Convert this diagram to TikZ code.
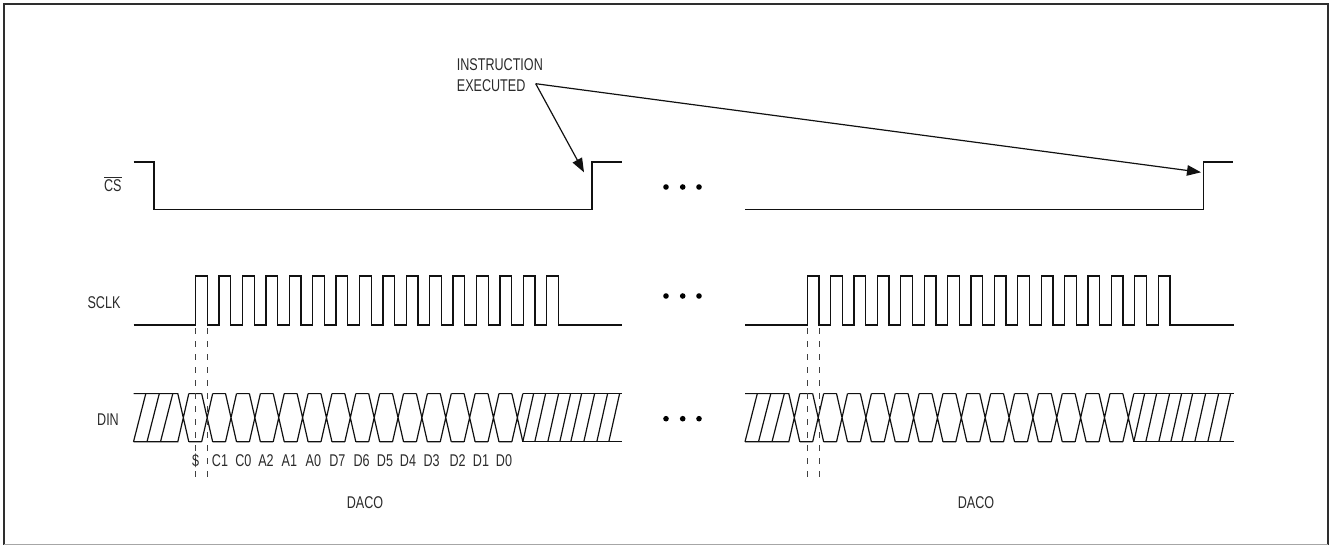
\documentclass[tikz,border=0pt]{standalone}
\usepackage{fontspec}
\setmainfont[FakeStretch=0.74]{Liberation Sans}
\usetikzlibrary{arrows.meta}
\definecolor{ink}{HTML}{111111}
\definecolor{txt}{HTML}{2A2A2A}
\definecolor{frame}{HTML}{2E2E2E}
\tikzset{
  wave/.style={draw=ink,line width=1.35pt,line join=miter},
  thin wave/.style={draw=ink,line width=1.2pt},
  dashline/.style={draw=ink!80,line width=1pt,dash pattern=on 6pt off 7pt},
  lbl/.style={font=\fontsize{17}{19}\selectfont,text=txt,inner sep=0pt},
  pointer/.style={draw=ink,line width=1.2pt,-{Triangle[length=14pt,width=10.5pt]}},
  dot/.style={circle,fill=black,inner sep=0pt,minimum size=5.6pt},
}
\newcommand{\clockwave}[1]{%
  \draw[wave] (#1,325) -- (#1+62.2,325)
    \foreach \k in {0,...,15} {
      -- (#1+62.2+\k*23.4,325) -- (#1+62.2+\k*23.4,276)
      -- (#1+73.9+\k*23.4,276) -- (#1+73.9+\k*23.4,325)
    } -- (#1+488.5,325);
}
% #1 left end, #2 first crossing
\newcommand{\datawave}[2]{%
  \draw[thin wave] (#1,393.6) -- (#2-5.5,393.6) -- (#2+5.5,441.8) (#1,441.8) -- (#2+5.5-11,441.8) -- (#2+5.5,393.6);
  \foreach \o in {0,13.5,27} { \draw[thin wave] (#1+\o,441.8) -- (#1+\o+12.3,393.6); }
  \foreach \k in {0,...,13} {
    \draw[thin wave] (#2+\k*23.86+5.5,393.6) -- (#2+\k*23.86+18.36,393.6)
      (#2+\k*23.86+5.5,441.8) -- (#2+\k*23.86+18.36,441.8)
      (#2+\k*23.86+18.36,393.6) -- (#2+\k*23.86+29.36,441.8)
      (#2+\k*23.86+18.36,441.8) -- (#2+\k*23.86+29.36,393.6);
  }
  \draw[thin wave] (#2+339.5,393.6) -- (#2+350,393.6) -- (#1+488.5,393.6);
  \draw[thin wave] (#2+339.5,441.8) -- (#2+350,441.8) -- (#1+488.5,441.8);
  \foreach \o in {0,12,25,37,48,61,74,86} { \draw[thin wave] (#2+339.5+\o,441.8) -- (#2+339.5+\o+10.8,393.6); }
}
\begin{document}
\begin{tikzpicture}[x=1pt,y=-1pt]
\useasboundingbox (0,0) rectangle (1335,545);
\draw[draw=frame,line width=2.2pt] (4.2,544.5) -- (4.2,3.8) -- (1328,3.8) -- (1328,544.5);
\draw[draw=gray!70,line width=1.2pt] (4.2,544.2) -- (1328,544.2);

% CS
\draw[wave] (133.5,162) -- (154,162) -- (154,209.5) -- (592,209.5) -- (592,162) -- (622,162);
\draw[wave] (745,209.5) -- (1203.7,209.5) -- (1203.7,162) -- (1233,162);

% SCLK
\clockwave{133.5}
\clockwave{745}

% DIN
\datawave{133.5}{183.3}
\datawave{745}{794.3}

% dashed
\draw[dashline] (195.7,328) -- (195.7,482);
\draw[dashline] (207.7,328) -- (207.7,482);
\draw[dashline] (807.3,328) -- (807.3,482);
\draw[dashline] (819,328) -- (819,482);

% dots
\foreach \y/\n in {187/a,296/b,418.7/c} {
  \node[dot] (\n1) at (666,\y) {};
  \node[dot] (\n2) at (682.7,\y) {};
  \node[dot] (\n3) at (699,\y) {};
}

% signal labels
\node[lbl] (cs) at (112.8,186) {\raisebox{0pt}[0pt][0pt]{\rlap{\rule[14pt]{17.5pt}{0.8pt}}}CS};
\node[lbl] (sclk) at (104,302.5) {SCLK};
\node[lbl] (din) at (108,420) {DIN};

% bit labels
\foreach \x/\t in {195.7/\$,220/C1,243.3/C0,266/A2,289.3/A1,313.3/A0,337.3/D7,361.7/D6,385/D5,408/D4,431.7/D3,457.7/D2,481/D1,504/D0} {
  \node[lbl] at (\x,461) {\t};
}
\node[lbl] (daco1) at (365,503) {DACO};
\node[lbl] (daco2) at (976,503) {DACO};

% annotation
\node[lbl,anchor=west] (instr) at (456.7,65) {INSTRUCTION};
\node[lbl,anchor=west] (exec) at (456.7,85.7) {EXECUTED};
\coordinate (apex) at (535.7,83.7);
\coordinate (tipa) at (584,172.3);
\coordinate (tipb) at (1201,172.3);
\draw[pointer] (apex) -- (tipa);
\draw[pointer] (apex) -- (tipb);
\end{tikzpicture}
\end{document}
